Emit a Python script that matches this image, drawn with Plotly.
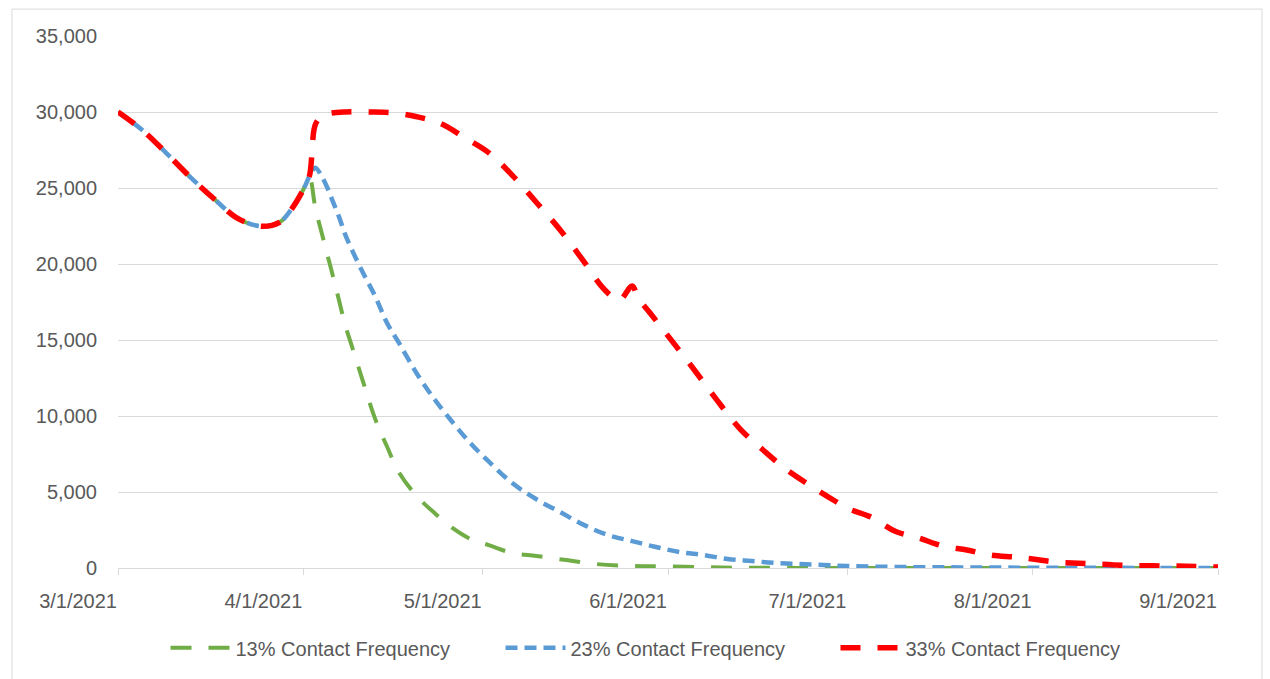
import plotly.graph_objects as go

# ---- shared start (all three scenarios coincide until 4/2) ----
common_dates = ["2021-03-01", "2021-03-05", "2021-03-09", "2021-03-13", "2021-03-17",
                "2021-03-21", "2021-03-25", "2021-03-28", "2021-03-30", "2021-04-01",
                "2021-04-02"]
common_values = [30000, 28830, 27330, 25750, 24310, 23000, 22480, 22740, 23600, 24900, 25750]

# ---- 13% contact frequency ----
green_dates = ["2021-04-03", "2021-04-04", "2021-04-05", "2021-04-06", "2021-04-07",
               "2021-04-08", "2021-04-09", "2021-04-11", "2021-04-13", "2021-04-15",
               "2021-04-17", "2021-04-20", "2021-04-23", "2021-04-26", "2021-04-29",
               "2021-05-02", "2021-05-06", "2021-05-10", "2021-05-15", "2021-05-20",
               "2021-05-26", "2021-06-01", "2021-06-10", "2021-06-20", "2021-07-01",
               "2021-07-20", "2021-08-10", "2021-09-01"]
green_values = [23720, 22150, 20640, 19130, 17560, 15990, 14740, 12250, 9830, 7990,
                6290, 4720, 3600, 2620, 1900, 1510, 980, 790, 520, 260,
                130, 100, 30, 10, 0, 0, 0, 0]

# ---- 23% contact frequency ----
blue_dates = ["2021-04-03", "2021-04-04", "2021-04-05", "2021-04-06", "2021-04-07",
              "2021-04-08", "2021-04-09", "2021-04-11", "2021-04-13", "2021-04-15",
              "2021-04-17", "2021-04-20", "2021-04-23", "2021-04-26", "2021-04-29",
              "2021-05-02", "2021-05-06", "2021-05-10", "2021-05-14", "2021-05-18",
              "2021-05-22", "2021-05-26", "2021-05-30", "2021-06-03", "2021-06-07",
              "2021-06-11", "2021-06-15", "2021-06-19", "2021-06-23", "2021-06-27",
              "2021-07-01", "2021-07-10", "2021-07-20", "2021-08-01", "2021-08-15",
              "2021-09-01"]
blue_values = [26340, 25820, 25030, 24050, 23070, 21950, 21040, 19400, 17890, 16120,
               14810, 12780, 11070, 9570, 8190, 7010, 5570, 4520, 3670, 2820,
               2160, 1770, 1380, 1050, 850, 590, 460, 330, 260, 200,
               130, 65, 40, 20, 10, 0]

# ---- 33% contact frequency ----
red_dates = ["2021-04-03", "2021-04-04", "2021-04-05", "2021-04-08", "2021-04-12",
             "2021-04-16", "2021-04-20", "2021-04-24", "2021-04-28", "2021-05-02",
             "2021-05-06", "2021-05-10", "2021-05-14", "2021-05-18", "2021-05-21",
             "2021-05-23", "2021-05-24", "2021-05-26", "2021-05-27", "2021-05-29",
             "2021-06-01", "2021-06-05", "2021-06-09", "2021-06-13", "2021-06-17",
             "2021-06-21", "2021-06-25", "2021-06-29", "2021-07-01", "2021-07-05",
             "2021-07-09", "2021-07-13", "2021-07-17", "2021-07-21", "2021-07-25",
             "2021-07-29", "2021-08-01", "2021-08-05", "2021-08-10", "2021-08-17",
             "2021-08-25", "2021-09-01"]
red_values = [29160, 29690, 29880, 30000, 30000, 29950, 29690, 29230, 28310, 27330,
              25820, 24050, 22220, 20120, 18480, 17760, 17630, 18550, 17760, 16780,
              15270, 13240, 11140, 9170, 7730, 6420, 5370, 4390, 3930, 3340,
              2420, 1970, 1440, 1180, 850, 720, 590, 390, 300, 160,
              130, 65]

series_names = ["13% Contact Frequency", "23% Contact Frequency", "33% Contact Frequency"]
tick_dates = ["2021-03-01", "2021-04-01", "2021-05-01", "2021-06-01",
              "2021-07-01", "2021-08-01", "2021-09-01"]
tick_labels = ["3/1/2021", "4/1/2021", "5/1/2021", "6/1/2021",
               "7/1/2021", "8/1/2021", "9/1/2021"]
y_ticks = [0, 5000, 10000, 15000, 20000, 25000, 30000, 35000]

FONT = "Liberation Sans, Arial, sans-serif"
TXT = "#595959"
GRID = "#d9d9d9"
FS = 20

fig = go.Figure()
fig.add_trace(go.Scatter(
    x=common_dates + green_dates, y=common_values + green_values,
    name=series_names[0], mode="lines",
    line=dict(color="#70AD47", width=4, dash="21px,17px", shape="spline", smoothing=1.0),
))
fig.add_trace(go.Scatter(
    x=common_dates + blue_dates, y=common_values + blue_values,
    name=series_names[1], mode="lines",
    line=dict(color="#5B9BD5", width=4.5, dash="12px,7px", shape="spline", smoothing=1.0),
))
fig.add_trace(go.Scatter(
    x=common_dates + red_dates, y=common_values + red_values,
    name=series_names[2], mode="lines",
    line=dict(color="#FF0000", width=5.5, dash="20px,17px", shape="spline", smoothing=1.0),
))

# chart-area border (Excel style)
border = dict(type="line", xref="paper", yref="paper", line=dict(color=GRID, width=1))
fig.add_shape(**border, x0=-0.0964, x1=1.04, y0=1.0506, y1=1.0506)
fig.add_shape(**border, x0=-0.0964, x1=-0.0964, y0=1.0506, y1=-0.25)
fig.add_shape(**border, x0=1.04, x1=1.04, y0=1.0506, y1=-0.25)

fig.update_layout(
    width=1270, height=679,
    margin=dict(l=118, r=52, t=36, b=109),
    paper_bgcolor="white", plot_bgcolor="white",
    font=dict(family=FONT, size=FS, color=TXT),
    showlegend=True,
    legend=dict(orientation="h", x=0.5, xanchor="center", y=-0.15, yanchor="middle",
                itemwidth=60, entrywidth=260, entrywidthmode="pixels",
                font=dict(family=FONT, size=FS, color=TXT),
                bgcolor="rgba(0,0,0,0)"),
    xaxis=dict(type="date", range=["2021-03-01", "2021-09-01"],
               tickvals=tick_dates, ticktext=tick_labels,
               ticks="outside", ticklen=6, tickcolor=GRID, tickwidth=1,
               ticklabelposition="outside left", ticklabelstandoff=15,
               showline=True, linecolor=GRID, linewidth=1,
               showgrid=False, zeroline=False,
               tickfont=dict(family=FONT, size=FS, color=TXT)),
    yaxis=dict(range=[0, 35000], tickvals=y_ticks, tickformat=",",
               ticks="outside", ticklen=16, tickcolor="rgba(0,0,0,0)",
               showgrid=True, gridcolor=GRID, gridwidth=1,
               zeroline=False, showline=False,
               tickfont=dict(family=FONT, size=FS, color=TXT)),
)

fig.write_html("out.html")
